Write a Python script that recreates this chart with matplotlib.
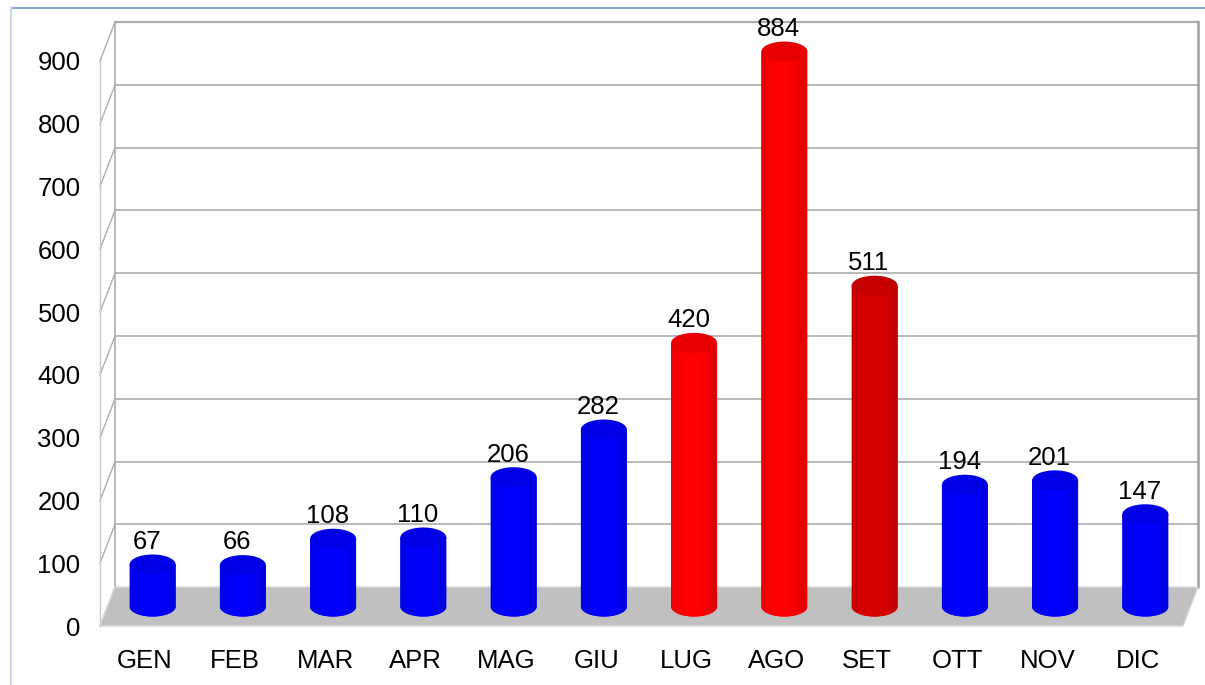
import numpy as np
import matplotlib.pyplot as plt
from matplotlib.patches import Ellipse, Polygon
from matplotlib.lines import Line2D

plt.rcParams['font.family'] = ['Liberation Sans', 'DejaVu Sans']

# dati mensili
mesi = ['GEN', 'FEB', 'MAR', 'APR', 'MAG', 'GIU', 'LUG', 'AGO', 'SET', 'OTT', 'NOV', 'DIC']
valori = [67, 66, 108, 110, 206, 282, 420, 884, 511, 194, 201, 147]
colori = ['#0000FF'] * 6 + ['#FF0000', '#FF0000', '#DA0000'] + ['#0000FF'] * 3
tick_y = list(range(0, 1000, 100))

W, H = 1205, 685
fig = plt.figure(figsize=(W / 100, H / 100), dpi=100)
px_per_unit = 0.6278
ymax = 990
ax = fig.add_axes([100 / W, 59 / H, 1083 / W, ymax * px_per_unit / H])
ax.set_xlim(-0.5, 11.5)
ax.set_ylim(0, ymax)
ax.patch.set_visible(False)
for s in ax.spines.values():
    s.set_visible(False)

# profondita' della "scatola" 3D
dx = 15 / 90.25
dy = 62
n = len(mesi)
xl, xr = -0.5, n - 0.5
gcol = '#ADADAD'
fs = 18.5

# pavimento
floor = Polygon([(xl, 0), (xr, 0), (xr + dx, dy), (xl + dx, dy)], closed=True,
                facecolor='#C0C0C0', edgecolor='#D8D8D8', lw=1, zorder=1, clip_on=False)
ax.add_patch(floor)

# griglia parete di fondo e parete sinistra
for v in tick_y[1:]:
    lw = 1.6 if v == tick_y[-1] else 1.2
    ax.plot([xl + dx, xr + dx], [v + dy, v + dy], color=gcol, lw=lw, zorder=0.5, clip_on=False)
for v in tick_y:
    ax.plot([xl, xl + dx], [v, v + dy], color=gcol, lw=1.0, zorder=0.5, clip_on=False)
ax.plot([xl, xl], [0, tick_y[-1]], color='#C8C8C8', lw=1.0, zorder=0.5, clip_on=False)
ax.plot([xl + dx, xl + dx], [dy, tick_y[-1] + dy], color=gcol, lw=1.2, zorder=0.5, clip_on=False)
ax.plot([xr + dx, xr + dx], [dy, tick_y[-1] + dy], color='#A0A0A0', lw=1.8, zorder=0.5, clip_on=False)

# cilindri
w = 46 / 90.25
eh = 20 / px_per_unit
base = dy / 2
t = np.linspace(0, 1, 64)
shade = 0.88 + 0.12 * np.sin(np.pi * np.clip(t * 1.1, 0, 1)) ** 0.5

for i, (v, c) in enumerate(zip(valori, colori)):
    xc = i + dx / 2
    x0, x1 = xc - w / 2, xc + w / 2
    top = base + v
    rgb = np.array(plt.matplotlib.colors.to_rgb(c))
    th = np.linspace(np.pi, 2 * np.pi, 60)
    pts = np.column_stack([xc + w / 2 * np.cos(th), base + eh / 2 * np.sin(th)])
    pts = np.vstack([pts, [[x1, top], [x0, top]]])
    body = Polygon(pts, closed=True, facecolor=rgb * 0.97, edgecolor='none', zorder=2)
    ax.add_patch(body)
    grad = (shade[:, None] * rgb[None, :])[None, :, :]
    im = ax.imshow(grad, extent=[x0, x1, base - eh / 2, top], aspect='auto',
                   origin='lower', zorder=2.1, interpolation='bilinear')
    im.set_clip_path(body)
    ax.add_patch(Ellipse((xc, top), w, eh, facecolor=rgb * 0.9, edgecolor='none', zorder=2.2))
    ax.text(i + 0.02, top + eh / 2 + 1, str(v), ha='center', va='bottom',
            fontsize=fs, color='black', zorder=5)

ax.set_xlim(-0.5, 11.5)
ax.set_ylim(0, ymax)

ax.set_yticks(tick_y)
ax.set_yticklabels([str(v) for v in tick_y])
ax.set_xticks(range(n))
ax.set_xticklabels(mesi)
ax.tick_params(axis='y', length=0, pad=14, labelsize=fs)
ax.tick_params(axis='x', length=0, pad=16.5, labelsize=fs)

# cornice del grafico
fig.add_artist(Line2D([11 / W, 1], [1 - 8 / H, 1 - 8 / H], color='#86A9D6', lw=1.5,
                      transform=fig.transFigure))
fig.add_artist(Line2D([11 / W, 11 / W], [0, 1 - 8 / H], color='#C9D8EC', lw=1.5,
                      transform=fig.transFigure))

fig.savefig('out.png', dpi=100)
